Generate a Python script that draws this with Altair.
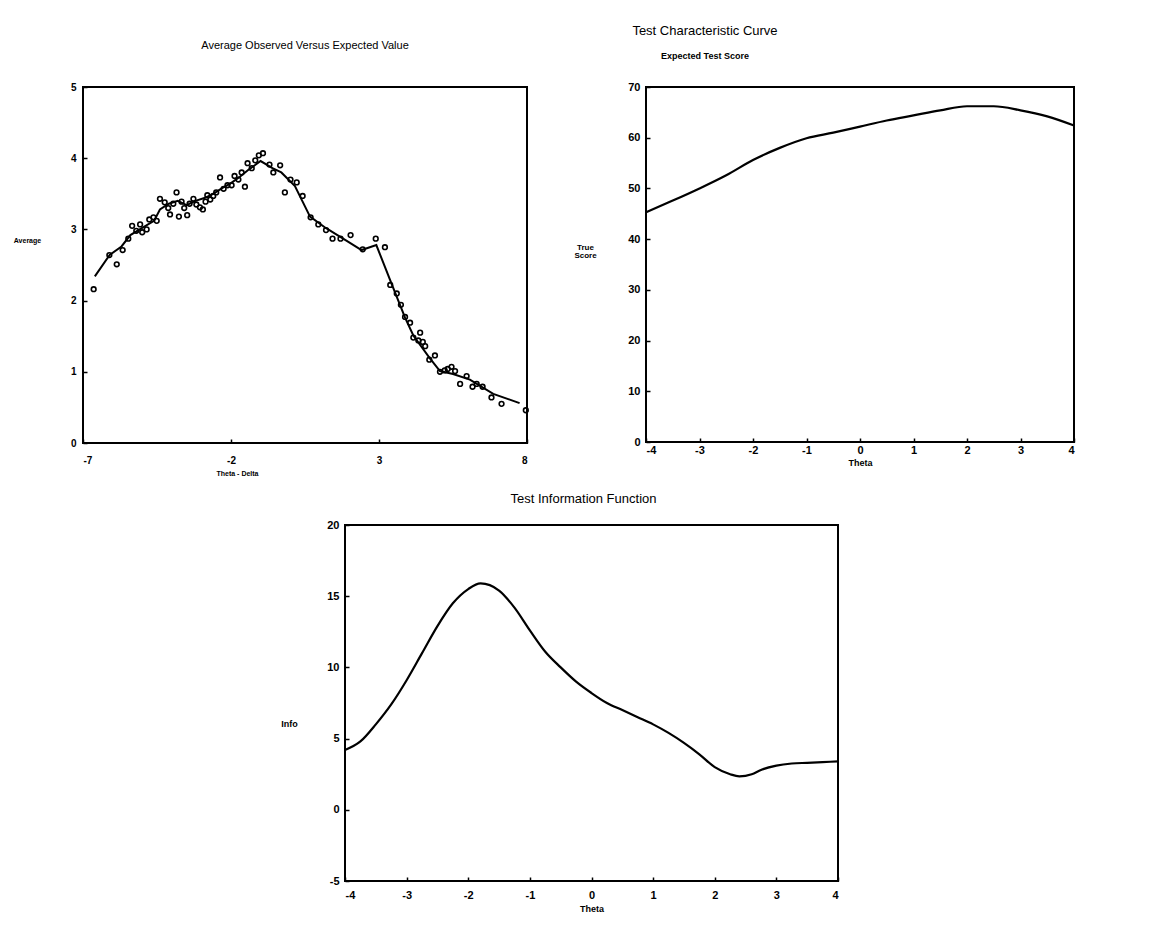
import altair as alt
import pandas as pd

FONT = "Liberation Sans"

# ---- Panel 1: Average observed vs expected ----
obs_x = [-6.64, -6.11, -5.86, -5.66, -5.47, -5.34, -5.20, -5.07, -5.00, -4.85, -4.76, -4.62, -4.51,
         -4.40, -4.24, -4.12, -4.06, -3.95, -3.84, -3.76, -3.67, -3.58, -3.48, -3.40, -3.27, -3.17,
         -3.05, -2.95, -2.86, -2.80, -2.70, -2.60, -2.50, -2.37, -2.25, -2.12, -1.98, -1.88, -1.75,
         -1.64, -1.53, -1.44, -1.30, -1.18, -1.06, -0.92, -0.70, -0.57, -0.34, -0.18, 0.01, 0.22,
         0.42, 0.69, 0.95, 1.21, 1.43, 1.70, 2.04, 2.45, 2.89, 3.20, 3.38, 3.60, 3.74, 3.88, 4.05,
         4.16, 4.33, 4.39, 4.48, 4.56, 4.70, 4.89, 5.06, 5.22, 5.32, 5.45, 5.57, 5.74, 5.96, 6.16,
         6.30, 6.50, 6.80, 7.14, 7.96]
obs_y = [2.16, 2.64, 2.51, 2.71, 2.87, 3.05, 2.98, 3.07, 2.96, 3.00, 3.14, 3.17, 3.12,
         3.43, 3.38, 3.30, 3.21, 3.36, 3.52, 3.18, 3.39, 3.30, 3.20, 3.36, 3.43, 3.35,
         3.31, 3.28, 3.39, 3.48, 3.42, 3.47, 3.52, 3.73, 3.57, 3.62, 3.62, 3.75, 3.70,
         3.80, 3.60, 3.93, 3.86, 3.97, 4.04, 4.07, 3.91, 3.80, 3.90, 3.52, 3.70, 3.66,
         3.47, 3.17, 3.07, 2.99, 2.87, 2.87, 2.92, 2.72, 2.87, 2.75, 2.22, 2.10, 1.94, 1.77, 1.69,
         1.48, 1.44, 1.55, 1.42, 1.36, 1.17, 1.23, 1.00, 1.02, 1.04, 1.07, 1.01, 0.83, 0.94, 0.79,
         0.83, 0.79, 0.64, 0.55, 0.46]
line_x = [-6.6, -6.1, -5.7, -5.4, -5.0, -4.6, -4.4, -4.1, -3.8, -3.5, -3.2, -2.9, -2.6, -2.3, -2.0,
          -1.7, -1.4, -1.0, -0.6, -0.3, 0.16, 0.67, 1.2, 1.91, 2.41, 2.91, 3.43, 3.88, 4.16, 4.72,
          5.06, 5.5, 6.07, 6.86, 7.75]
line_y = [2.34, 2.64, 2.76, 2.92, 3.02, 3.12, 3.28, 3.36, 3.40, 3.34, 3.40, 3.44, 3.50, 3.58, 3.65,
          3.74, 3.84, 3.96, 3.86, 3.80, 3.61, 3.18, 3.02, 2.84, 2.71, 2.78, 2.23, 1.76, 1.51, 1.19,
          1.01, 0.97, 0.89, 0.69, 0.56]
p1_xticks = [-7, -2, 3, 8]
p1_yticks = [0, 1, 2, 3, 4, 5]

# ---- Panel 2: Test characteristic curve ----
tcc_theta = [-4, -3.5, -3, -2.5, -2, -1.5, -1, -0.5, 0, 0.5, 1, 1.5, 2, 2.5, 3, 3.5, 4]
tcc_score = [45.3, 47.6, 50.0, 52.6, 55.6, 58.0, 59.9, 61.0, 62.2, 63.4, 64.4, 65.4, 66.2, 66.2,
             65.4, 64.2, 62.4]
p2_xticks = [-4, -3, -2, -1, 0, 1, 2, 3, 4]
p2_yticks = [0, 10, 20, 30, 40, 50, 60, 70]

# ---- Panel 3: Test information function ----
tif_theta = [-4, -3.75, -3.5, -3.25, -3.0, -2.75, -2.5, -2.25, -2.0, -1.8, -1.5, -1.25, -1.0, -0.75,
             -0.5, -0.25, 0, 0.25, 0.5, 0.75, 1.0, 1.25, 1.5, 1.75, 2.0, 2.25, 2.4, 2.6, 2.75, 3.0,
             3.25, 3.5, 3.75, 4.0]
tif_info = [4.2, 4.8, 6.0, 7.4, 9.1, 11.0, 12.9, 14.5, 15.5, 15.9, 15.4, 14.2, 12.6, 11.1,
            10.0, 9.0, 8.2, 7.5, 7.0, 6.5, 6.0, 5.4, 4.7, 3.9, 3.0, 2.5, 2.35, 2.5, 2.8, 3.1,
            3.25, 3.3, 3.35, 3.4]
p3_yticks = [-5, 0, 5, 10, 15, 20]

frame = alt.ViewBackground(stroke="black", strokeWidth=2)


def axis(values, title, label_size, title_size, **kw):
    base = dict(values=values, title=title, grid=False, domain=False, ticks=True,
                tickSize=4, offset=-4, tickColor="black", tickWidth=1.5,
                labelFont=FONT, labelFontSize=label_size, labelFontWeight="bold",
                labelColor="black", titleFont=FONT, titleFontSize=title_size,
                titleFontWeight="bold", titleColor="black", format="d",
                labelExpr="replace(datum.label, '\u2212', '-')")
    base.update(kw)
    return alt.Axis(**base)


# Panel 1
pts = pd.DataFrame({"x": obs_x, "y": obs_y})
ln = pd.DataFrame({"x": line_x, "y": line_y})
x1 = alt.X("x:Q", scale=alt.Scale(domain=[-7, 8], nice=False, zero=False),
           axis=axis(p1_xticks, "Theta - Delta", 10, 7, labelPadding=12, titleX=154, titleY=30))
y1 = alt.Y("y:Q", scale=alt.Scale(domain=[0, 5], nice=False),
           axis=axis(p1_yticks, "Average", 10, 7, labelPadding=7, titleAngle=0, titleX=-60,
                     titleY=153, titleAlign="center", titleBaseline="middle"))
tl_line = alt.Chart(ln).mark_line(color="black", strokeWidth=2).encode(x=x1, y=y1)
tl_pts = alt.Chart(pts).mark_point(shape="circle", filled=False, color="black", size=22,
                                   strokeWidth=1.6, opacity=1).encode(x=x1, y=y1)
tl = alt.layer(tl_line, tl_pts).properties(
    width=444, height=356, view=frame,
    title=alt.TitleParams("Average Observed Versus Expected Value", font=FONT, fontSize=11,
                          fontWeight="normal", color="black", offset=31, anchor="middle"))

# Panel 2
tcc = pd.DataFrame({"theta": tcc_theta, "score": tcc_score})
tr = alt.Chart(tcc).mark_line(color="black", strokeWidth=2.2, interpolate="monotone").encode(
    x=alt.X("theta:Q", scale=alt.Scale(domain=[-4, 4], nice=False, zero=False),
            axis=axis(p2_xticks, "Theta", 11, 9, labelPadding=2, titleY=24,
                      titleBaseline="middle")),
    y=alt.Y("score:Q", scale=alt.Scale(domain=[0, 70], nice=False),
            axis=axis(p2_yticks, ["True", "Score"], 11, 8, labelPadding=6, titleAngle=0,
                      titleX=-65, titleY=160, titleAlign="center", titleBaseline="middle",
                      titleLineHeight=8)),
).properties(
    width=428, height=355, view=frame,
    title=alt.TitleParams("Test Characteristic Curve", subtitle="Expected Test Score", font=FONT,
                          fontSize=13, fontWeight="normal", color="black", subtitleFont=FONT,
                          subtitleFontSize=9, subtitleFontWeight="bold", subtitleColor="black",
                          subtitlePadding=14, offset=20, anchor="middle", dx=-155))

# Panel 3
tif = pd.DataFrame({"theta": tif_theta, "info": tif_info})
bot = alt.Chart(tif).mark_line(color="black", strokeWidth=2.2, interpolate="monotone").encode(
    x=alt.X("theta:Q", scale=alt.Scale(domain=[-4, 4], nice=False, zero=False),
            axis=axis(p2_xticks, "Theta", 11, 9, labelPadding=8, titleY=31,
                      titleBaseline="middle")),
    y=alt.Y("info:Q", scale=alt.Scale(domain=[-5, 20], nice=False, zero=False),
            axis=axis(p3_yticks, "Info", 11, 9, labelPadding=6, titleAngle=0, titleX=-60,
                      titleY=198, titleAlign="center", titleBaseline="middle")),
).properties(
    width=493, height=356, view=frame,
    title=alt.TitleParams("Test Information Function", font=FONT, fontSize=13,
                          fontWeight="normal", color="black", offset=13, anchor="middle", dx=-8))

spacer = alt.Chart(pd.DataFrame({"a": [0]})).mark_point(opacity=0).encode(
    x=alt.value(0), y=alt.value(0)).properties(width=195, height=10)

top = alt.hconcat(tl, tr, spacing=39)
bottom_row = alt.hconcat(spacer, bot, spacing=0)

chart = alt.vconcat(top, bottom_row, spacing=15).properties(
    padding={"left": 12, "top": 24, "right": 5, "bottom": 5},
    background="white",
).configure_view(stroke="transparent")

chart.save("out.html", embed_options={"renderer": "svg", "actions": False})
